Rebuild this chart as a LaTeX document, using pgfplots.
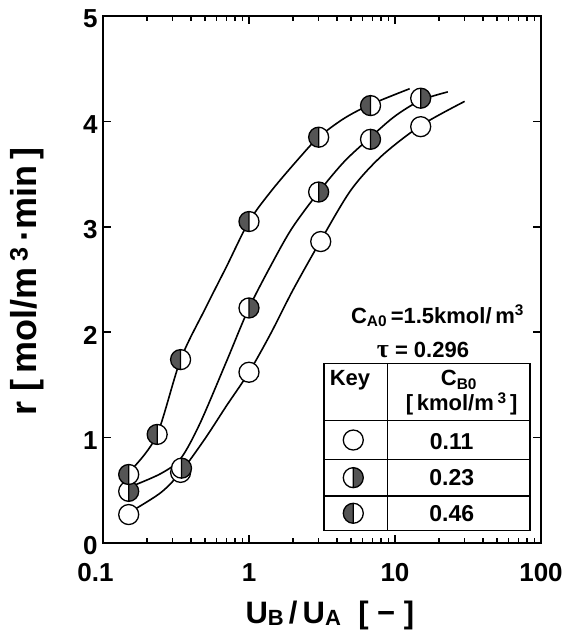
\documentclass[border=0pt]{standalone}
\usepackage{fontspec}
\setmainfont{Liberation Sans}
\newfontfamily\serifg{Liberation Serif}
\usepackage{pgfplots}
\pgfplotsset{compat=1.18}
\definecolor{halfgray}{HTML}{555555}
\pgfdeclareplotmark{halfright}{%
  \pgfpathcircle{\pgfpointorigin}{\pgfplotmarksize}%
  \pgfsetfillcolor{white}\pgfusepathqfill
  \pgfpathmoveto{\pgfqpoint{0pt}{\pgfplotmarksize}}%
  \pgfpatharc{90}{-90}{\pgfplotmarksize}%
  \pgfpathclose
  \pgfsetfillcolor{halfgray}\pgfusepathqfill
  \pgfpathmoveto{\pgfqpoint{0pt}{\pgfplotmarksize}}%
  \pgfpathlineto{\pgfqpoint{0pt}{-\pgfplotmarksize}}%
  \pgfpathcircle{\pgfpointorigin}{\pgfplotmarksize}%
  \pgfusepathqstroke
}
\pgfdeclareplotmark{halfleft}{%
  \pgfpathcircle{\pgfpointorigin}{\pgfplotmarksize}%
  \pgfsetfillcolor{white}\pgfusepathqfill
  \pgfpathmoveto{\pgfqpoint{0pt}{\pgfplotmarksize}}%
  \pgfpatharc{90}{270}{\pgfplotmarksize}%
  \pgfpathclose
  \pgfsetfillcolor{halfgray}\pgfusepathqfill
  \pgfpathmoveto{\pgfqpoint{0pt}{\pgfplotmarksize}}%
  \pgfpathlineto{\pgfqpoint{0pt}{-\pgfplotmarksize}}%
  \pgfpathcircle{\pgfpointorigin}{\pgfplotmarksize}%
  \pgfusepathqstroke
}
\newcommand{\lowsub}[1]{\raisebox{-2pt}{\fontsize{22}{22}\selectfont #1}}
\begin{document}
\begin{tikzpicture}
\path[use as bounding box] (-103pt,-89pt) rectangle (464pt,543pt);
\begin{axis}[
  scale only axis, width=438pt, height=527pt,
  xmode=log, xmin=0.1, xmax=100, ymin=0, ymax=5,
  xtick={0.1,1,10,100},
  xticklabels={{\hspace{-15pt}0.1},1,10,100},
  ytick={0,1,2,3,4,5},
  minor y tick num=0,
  tick align=inside,
  major tick length=8pt, minor tick length=4.5pt,
  every tick/.style={line width=1.5pt, black},
  axis line style={line width=1.8pt},
  /pgf/number format/assume math mode=true,
  ticklabel style={font=\fontsize{26}{26}\selectfont\bfseries},
  yticklabel style={xshift=-2pt, yshift=-3pt},
  xticklabel style={yshift=-17pt},
  xlabel={U\lowsub{B}\,/\,U\lowsub{A}\ \ [\ −\ ]},
  ylabel={r\ [\,mol/m\,\textsuperscript{3}\,·min\,]},
  xlabel style={at={(axis description cs:0.518,-0.138)}, anchor=center, font=\fontsize{31}{31}\selectfont\bfseries},
  ylabel style={at={(axis description cs:-0.1735,0.496)}, anchor=center, rotate=0, font=\fontsize{36}{36}\selectfont\bfseries},
  clip=false,
]
% fitted curves
\addplot[smooth, tension=0.5, line width=1.6pt, black] coordinates {
 (0.165,0.32) (0.25,0.48) (0.34,0.67) (0.5,0.99) (0.7,1.30) (1.0,1.62) (1.4,1.98) (2.0,2.40) (3.1,2.87) (5.0,3.35) (8.07,3.67) (15,3.96) (30,4.19)};
\addplot[smooth, tension=0.5, line width=1.6pt, black] coordinates {
 (0.165,0.55) (0.25,0.66) (0.34,0.80) (0.46,1.13) (0.7,1.72) (1.0,2.23) (1.5,2.70) (2.0,3.0) (3.0,3.33) (4.5,3.62) (6.8,3.85) (10,4.05) (15,4.2) (23,4.28)};
\addplot[smooth, tension=0.5, line width=1.6pt, black] coordinates {
 (0.165,0.73) (0.235,1.03) (0.34,1.74) (0.5,2.22) (0.7,2.62) (1.0,3.05) (1.44,3.35) (2.2,3.65) (3.0,3.85) (4.5,4.03) (6.8,4.16) (12.6,4.31)};
% data points
\addplot[only marks, mark=*, mark size=10pt, mark options={fill=white, draw=black, line width=1.3pt}] coordinates {
 (0.15,0.27) (0.34,0.67) (1.0,1.62) (3.1,2.86) (15,3.95)};
\addplot[only marks, mark=halfright, mark size=10pt, mark options={draw=black, line width=1.3pt}] coordinates {
 (0.15,0.49) (0.345,0.71) (1.0,2.23) (3.0,3.33) (6.8,3.83) (15,4.22)};
\addplot[only marks, mark=halfleft, mark size=10pt, mark options={draw=black, line width=1.3pt}] coordinates {
 (0.15,0.65) (0.235,1.03) (0.34,1.74) (1.0,3.05) (3.0,3.85) (6.8,4.15)};
% key markers
\addplot[only marks, mark=*, mark size=10pt, mark options={fill=white, draw=black, line width=1.3pt}] coordinates {(5.18,0.977)};
\addplot[only marks, mark=halfright, mark size=10pt, mark options={draw=black, line width=1.3pt}] coordinates {(5.18,0.62)};
\addplot[only marks, mark=halfleft, mark size=10pt, mark options={draw=black, line width=1.3pt}] coordinates {(5.18,0.282)};
\end{axis}
% key table (image px -> (X-103, 543-Y))
\begin{scope}[line width=1.4pt]
\draw (221pt,12.3pt) rectangle (427pt,179.7pt);
\draw (284.3pt,12.3pt) -- (284.3pt,179.7pt);
\draw (221pt,122.3pt) -- (427pt,122.3pt);
\draw (221pt,83.7pt) -- (427pt,83.7pt);
\draw (221pt,47pt) -- (427pt,47pt);
\end{scope}
\node[font=\fontsize{22}{22}\selectfont\bfseries] at (247pt,163pt) {Key};
\node[font=\fontsize{22}{22}\selectfont\bfseries] at (356pt,163pt) {C\textsubscript{B0}};
\node[font=\fontsize{22}{22}\selectfont\bfseries] at (358.7pt,139pt) {[\,kmol/m\,\textsuperscript{3}\,]};
\node[font=\fontsize{23}{23}\selectfont\bfseries] at (348.7pt,101pt) {0.11};
\node[font=\fontsize{23}{23}\selectfont\bfseries] at (348.7pt,65pt) {0.23};
\node[font=\fontsize{23}{23}\selectfont\bfseries] at (348.7pt,29.5pt) {0.46};
\node[font=\fontsize{22}{22}\selectfont\bfseries] at (334.5pt,227pt) {C\textsubscript{A0}\,=1.5kmol/\,m\textsuperscript{3}};
\node[font=\fontsize{22}{22}\selectfont\bfseries] at (320pt,193pt) {{\serifg\fontsize{26}{26}\selectfont τ}\ =\ 0.296};
\end{tikzpicture}
\end{document}
